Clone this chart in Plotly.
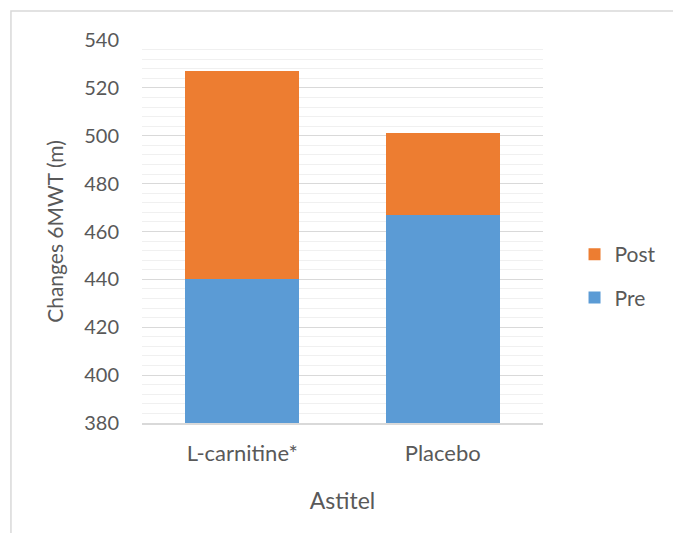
import plotly.graph_objects as go

# Six-minute walk test distances (m)
groups = ["L-carnitine*", "Placebo"]
pre_values = [440, 467]
post_gain = [87, 34]          # stacked on top of Pre

y_ticks = [380, 400, 420, 440, 460, 480, 500, 520, 540]

FONT = "Lato, 'Open Sans', sans-serif"
TEXT = "#595959"
W, H = 673, 533
L, R, T, B = 142, 124, 40, 110
plot_w = W - L - R
plot_h = H - T - B

fig = go.Figure()
fig.add_trace(go.Bar(x=groups, y=pre_values, name="Pre", marker_color="#5B9BD5",
                     marker_line_width=0, legendgroup="pre", legendrank=2))
fig.add_trace(go.Bar(x=groups, y=post_gain, name="Post", marker_color="#ED7D31",
                     marker_line_width=0, legendgroup="post", legendrank=1))


def px_to_paper_x(px):
    return (px - L) / plot_w


def px_to_paper_y(py):
    return (H - B - py) / plot_h


# chart-area border (top and left edges visible in the frame)
fig.add_shape(type="rect", xref="paper", yref="paper",
              x0=px_to_paper_x(9), x1=px_to_paper_x(690),
              y0=px_to_paper_y(545), y1=px_to_paper_y(11),
              line=dict(color="#D9D9D9", width=1.5), fillcolor="rgba(0,0,0,0)",
              layer="below")

fig.update_layout(
    width=W, height=H,
    margin=dict(l=L, r=R, t=T, b=B, pad=0),
    barmode="stack",
    bargap=0.43,
    plot_bgcolor="white",
    paper_bgcolor="white",
    font=dict(family=FONT, color=TEXT, size=20),
    showlegend=True,
    legend=dict(
        x=px_to_paper_x(581), xanchor="left",
        y=px_to_paper_y(234), yanchor="top",
        traceorder="grouped",
        tracegroupgap=13,
        font=dict(size=21, color=TEXT),
        itemwidth=30,
        bgcolor="rgba(0,0,0,0)",
    ),
    xaxis=dict(
        title=dict(text="Astitel", font=dict(size=23, color=TEXT), standoff=28),
        showgrid=False,
        showline=True, linecolor="#D9D9D9", linewidth=1.5,
        ticks="", ticklabelstandoff=10,
        tickfont=dict(size=22, color=TEXT),
    ),
    yaxis=dict(
        title=dict(text="Changes 6MWT (m)", font=dict(size=21, color=TEXT), standoff=14),
        range=[380, 540],
        tickvals=y_ticks,
        showgrid=True, gridcolor="#D9D9D9", gridwidth=1.3,
        minor=dict(dtick=4, tick0=380, showgrid=True, gridcolor="#F0F0F0", gridwidth=1.3),
        zeroline=False,
        showline=False,
        ticks="", ticklabelstandoff=22,
        tickfont=dict(size=20, color=TEXT),
    ),
)

fig.write_html("out.html")
